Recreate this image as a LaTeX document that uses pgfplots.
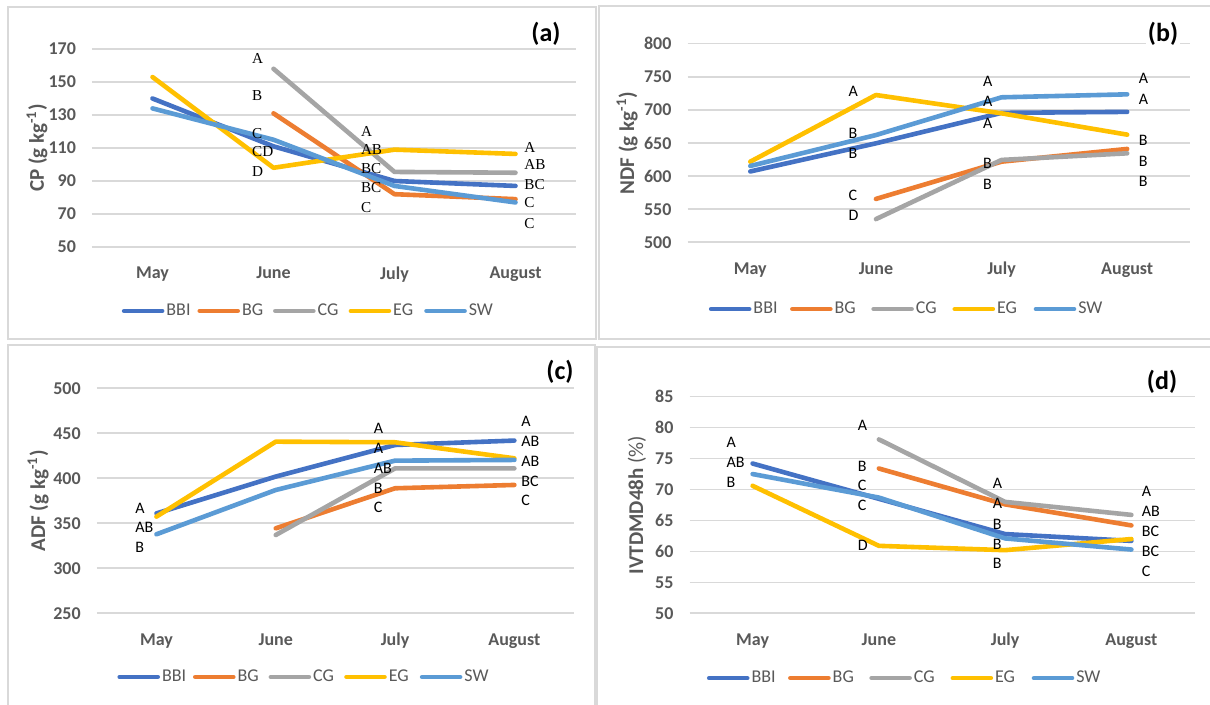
\documentclass[border=0pt]{standalone}
\usepackage{fontspec}
\setmainfont{Carlito}
\newfontfamily\serifletters{Liberation Serif}
\usepackage{pgfplots}
\pgfplotsset{compat=1.18}
\definecolor{cBBI}{HTML}{4472C4}
\definecolor{cBG}{HTML}{ED7D31}
\definecolor{cCG}{HTML}{A5A5A5}
\definecolor{cEG}{HTML}{FFC000}
\definecolor{cSW}{HTML}{5B9BD5}
\definecolor{gridc}{HTML}{D9D9D9}
\definecolor{tickc}{HTML}{595959}
\newcommand{\legbox}[1]{\makebox[12pt][l]{#1}}
\pgfplotsset{
  panel/.style={
    scale only axis,
    xmin=-0.5, xmax=3.5,
    xtick={0,1,2,3},
    xticklabels={May,June,July,August},
    ymajorgrids,
    grid style={color=gridc, line width=0.8pt},
    axis line style={draw=none},
    major tick style={draw=none},
    tick label style={font=\fontsize{9}{10}\selectfont\bfseries, text=tickc},
    xticklabel style={yshift=-6.5pt},
    yticklabel style={xshift=-4.5pt},
    /pgf/number format/assume math mode=true,
    clip=false,
    legend columns=5,
    legend style={draw=none, fill=none, font=\fontsize{9}{10}\selectfont, text=tickc,
      anchor=center, inner sep=0pt,
      nodes={inner sep=1pt}},
    legend image code/.code={\draw[##1,line width=2.3pt,line cap=round] (0pt,0pt) -- (19pt,0pt);},
    every axis plot/.append style={line width=2.3pt, line join=round, line cap=round, mark=none},
    every axis y label/.style={rotate=90, anchor=center, font=\fontsize{10.5}{12}\selectfont\bfseries, text=tickc},
  },
  narrowleg/.style={legend style={/tikz/every even column/.append style={column sep=2.5pt}}},
  wideleg/.style={legend style={/tikz/every even column/.append style={column sep=5.3pt}}},
}
\tikzset{
  lettA/.style={font=\fontsize{7.6}{8}\selectfont\serifletters, anchor=west, inner sep=0pt},
  lett/.style={font=\fontsize{8}{9}\selectfont, anchor=west, inner sep=0pt},
  plab/.style={font=\fontsize{13}{15}\selectfont\bfseries, inner sep=1pt},
}
\begin{document}
\begin{tikzpicture}
\useasboundingbox (0,0) rectangle (605pt,352.5pt);
\fill[white] (0,0) rectangle (605pt,352.5pt);
\begin{scope}
\clip (0,0) rectangle (605pt,352.5pt);
\draw[gridc, line width=1pt] (4pt,349pt) rectangle (298pt,183pt);
\draw[gridc, line width=1pt] (299.5pt,349.5pt) rectangle (612pt,183pt);
\draw[gridc, line width=1pt] (4pt,180pt) rectangle (297.5pt,-5pt);
\draw[gridc, line width=1pt] (298.5pt,179pt) rectangle (612pt,-5pt);
\end{scope}

% (a) CP
\begin{axis}[panel, narrowleg, at={(46pt,229pt)}, anchor=south west, width=242pt, height=99pt,
  ymin=50, ymax=170, ytick={50,70,...,170},
  ylabel={CP (g kg\textsuperscript{-1})},
  ylabel style={at={(axis description cs:-0.1136,0.5)}},
  legend style={at={(axis description cs:0.447,-0.323)}}]
\addplot[cBBI] coordinates {(0,140) (1,111) (2,90) (3,87)};
\addplot[cBG] coordinates {(1,131) (2,82) (3,79)};
\addplot[cCG] coordinates {(1,158) (2,95.5) (3,95)};
\addplot[cEG] coordinates {(0,153) (1,98) (2,109) (3,106.4)};
\addplot[cSW] coordinates {(0,134) (1,115) (2,87) (3,77)};
\legend{\legbox{BBI},\legbox{BG},\legbox{CG},\legbox{EG},\legbox{SW}}
\node[lettA] at (axis cs:0.82,164.5) {A};
\node[lettA] at (axis cs:0.82,141.5) {B};
\node[lettA] at (axis cs:0.82,118.5) {C};
\node[lettA] at (axis cs:0.82,107.6) {CD};
\node[lettA] at (axis cs:0.82,95.5) {D};
\node[lettA] at (axis cs:1.72,120.3) {A};
\node[lettA] at (axis cs:1.72,108.8) {AB};
\node[lettA] at (axis cs:1.72,97.3) {BC};
\node[lettA] at (axis cs:1.72,85.8) {BC};
\node[lettA] at (axis cs:1.72,74.2) {C};
\node[lettA] at (axis cs:3.07,110.6) {A};
\node[lettA] at (axis cs:3.07,99.7) {AB};
\node[lettA] at (axis cs:3.07,87.6) {BC};
\node[lettA] at (axis cs:3.07,76.7) {C};
\node[lettA] at (axis cs:3.07,64.5) {C};
\end{axis}

% (b) NDF
\begin{axis}[panel, wideleg, at={(343.75pt,231.35pt)}, anchor=south west, width=251.25pt, height=99.3pt,
  ymin=500, ymax=800, ytick={500,550,...,800},
  ylabel={NDF (g kg\textsuperscript{-1})},
  ylabel style={at={(axis description cs:-0.120,0.5)}},
  legend style={at={(axis description cs:0.436,-0.336)}}]
\addplot[cBBI] coordinates {(0,607) (1,649.5) (2,695.5) (3,697)};
\addplot[cBG] coordinates {(1,565.5) (2,621.8) (3,641)};
\addplot[cCG] coordinates {(1,535) (2,624.4) (3,634.4)};
\addplot[cEG] coordinates {(0,621.8) (1,722.5) (2,694.8) (3,662.6)};
\addplot[cSW] coordinates {(0,615.3) (1,662) (2,719) (3,723.5)};
\legend{\legbox{BBI},\legbox{BG},\legbox{CG},\legbox{EG},\legbox{SW}}
\node[lett] at (axis cs:0.78,728.5) {A};
\node[lett] at (axis cs:0.78,664.6) {B};
\node[lett] at (axis cs:0.78,634.4) {B};
\node[lett] at (axis cs:0.78,571.5) {C};
\node[lett] at (axis cs:0.78,541.3) {D};
\node[lett] at (axis cs:1.85,742.6) {A};
\node[lett] at (axis cs:1.85,712.4) {A};
\node[lett] at (axis cs:1.85,679.7) {A};
\node[lett] at (axis cs:1.85,619.3) {B};
\node[lett] at (axis cs:1.85,587.6) {B};
\node[lett] at (axis cs:3.09,747.7) {A};
\node[lett] at (axis cs:3.09,716.5) {A};
\node[lett] at (axis cs:3.09,654.6) {B};
\node[lett] at (axis cs:3.09,622.8) {B};
\node[lett] at (axis cs:3.09,591.6) {B};
\end{axis}

% (c) ADF
\begin{axis}[panel, narrowleg, at={(48.4pt,45.85pt)}, anchor=south west, width=238.6pt, height=112.5pt,
  ymin=250, ymax=500, ytick={250,300,...,500},
  ylabel={ADF (g kg\textsuperscript{-1})},
  ylabel style={at={(axis description cs:-0.123,0.5)}},
  legend style={at={(axis description cs:0.434,-0.283)}}]
\addplot[cBBI] coordinates {(0,361) (1,401.9) (2,437) (3,441.9)};
\addplot[cBG] coordinates {(1,344.4) (2,388.9) (3,392.6)};
\addplot[cCG] coordinates {(1,337) (2,411) (3,411)};
\addplot[cEG] coordinates {(0,357.4) (1,440.7) (2,440) (3,422.2)};
\addplot[cSW] coordinates {(0,337.8) (1,387) (2,419.6) (3,420.4)};
\legend{\legbox{BBI},\legbox{BG},\legbox{CG},\legbox{EG},\legbox{SW}}
\node[lett] at (axis cs:-0.18,366.7) {A};
\node[lett] at (axis cs:-0.18,345.2) {AB};
\node[lett] at (axis cs:-0.18,323) {B};
\node[lett] at (axis cs:1.82,455.6) {A};
\node[lett] at (axis cs:1.82,433.3) {A};
\node[lett] at (axis cs:1.82,411.1) {AB};
\node[lett] at (axis cs:1.82,388.9) {B};
\node[lett] at (axis cs:1.82,367.8) {C};
\node[lett] at (axis cs:3.055,463) {A};
\node[lett] at (axis cs:3.055,441.5) {AB};
\node[lett] at (axis cs:3.055,418.5) {AB};
\node[lett] at (axis cs:3.055,397) {BC};
\node[lett] at (axis cs:3.055,376) {C};
\end{axis}

% (d) IVTDMD48h
\begin{axis}[panel, wideleg, at={(344.75pt,45.85pt)}, anchor=south west, width=252.5pt, height=108.3pt,
  ymin=50, ymax=85, ytick={50,55,...,85},
  ylabel={IVTDMD48h {\mdseries(\%)}},
  ylabel style={at={(axis description cs:-0.104,0.5)}},
  legend style={at={(axis description cs:0.426,-0.299)}}]
\addplot[cBBI] coordinates {(0,74.2) (1,68.5) (2,62.8) (3,61.7)};
\addplot[cBG] coordinates {(1,73.4) (2,67.6) (3,64.2)};
\addplot[cCG] coordinates {(1,78.1) (2,68.0) (3,65.9)};
\addplot[cEG] coordinates {(0,70.6) (1,60.9) (2,60.2) (3,62.0)};
\addplot[cSW] coordinates {(0,72.5) (1,68.7) (2,62.1) (3,60.3)};
\legend{\legbox{BBI},\legbox{BG},\legbox{CG},\legbox{EG},\legbox{SW}}
\node[lett] at (axis cs:-0.21,77.6) {A};
\node[lett] at (axis cs:-0.21,74.4) {AB};
\node[lett] at (axis cs:-0.21,71.1) {B};
\node[lett] at (axis cs:0.83,80.3) {A};
\node[lett] at (axis cs:0.83,73.7) {B};
\node[lett] at (axis cs:0.83,70.6) {C};
\node[lett] at (axis cs:0.83,67.4) {C};
\node[lett] at (axis cs:0.83,60.9) {D};
\node[lett] at (axis cs:1.90,71.0) {A};
\node[lett] at (axis cs:1.90,67.7) {A};
\node[lett] at (axis cs:1.90,64.4) {B};
\node[lett] at (axis cs:1.90,61.2) {B};
\node[lett] at (axis cs:1.90,58.1) {B};
\node[lett] at (axis cs:3.08,69.7) {A};
\node[lett] at (axis cs:3.08,66.5) {AB};
\node[lett] at (axis cs:3.08,63.2) {BC};
\node[lett] at (axis cs:3.08,60.0) {BC};
\node[lett] at (axis cs:3.08,56.8) {C};
\end{axis}

% panel labels
\node[plab] at (273pt,335.5pt) {(a)};
\node[plab, fill=white] at (581.5pt,335.5pt) {(b)};
\node[plab] at (280pt,166.5pt) {(c)};
\node[plab] at (581pt,161.5pt) {(d)};
\end{tikzpicture}
\end{document}
